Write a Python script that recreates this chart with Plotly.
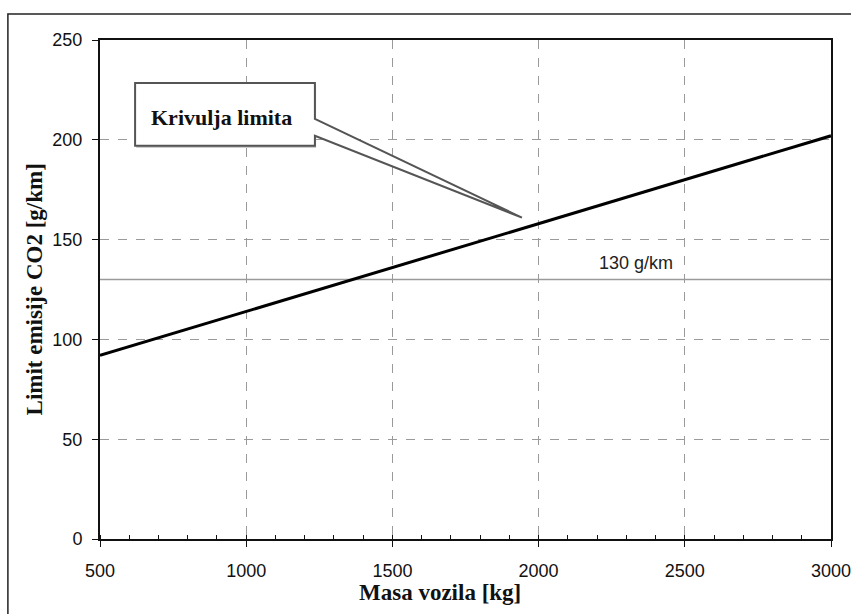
import plotly.graph_objects as go

# podaci
masa = [500, 3000]
limit_co2 = [92, 202]
cilj_x = [500, 3000]
cilj_y = [130, 130]
x_ticks = [500, 1000, 1500, 2000, 2500, 3000]
y_ticks = [0, 50, 100, 150, 200, 250]

tick_font = dict(family="Liberation Sans, Arial", size=18, color="#111")
title_font = dict(family="Liberation Serif, Times New Roman, serif", size=23, color="#111")

fig = go.Figure()

fig.add_trace(go.Scatter(
    x=cilj_x, y=cilj_y, mode="lines",
    line=dict(color="#9a9a9a", width=1.5),
    showlegend=False, hoverinfo="skip"
))
fig.add_trace(go.Scatter(
    x=masa, y=limit_co2, mode="lines",
    line=dict(color="black", width=3),
    showlegend=False
))

# callout "Krivulja limita" (okvir + klin prema krivulji)
bx0, bx1, by0, by1 = 620, 1235, 197, 228.5
wy1, wy2 = 210.5, 202
tip_x, tip_y = 1943, 161
path = (f"M {bx0},{by1} L {bx1},{by1} L {bx1},{wy1} L {tip_x},{tip_y} "
        f"L {bx1},{wy2} L {bx1},{by0} L {bx0},{by0} Z")
# sjena
fig.add_shape(type="rect", xref="x", yref="y", x0=bx0 + 4, x1=bx1 + 4, y0=by0 - 1, y1=by1 - 1,
              fillcolor="#bdbdbd", line=dict(width=0), layer="above")
fig.add_shape(type="path", path=path, xref="x", yref="y",
              fillcolor="white", line=dict(color="#555", width=2), layer="above")
fig.add_annotation(x=917, y=211, xref="x", yref="y",
                   text="<b>Krivulja limita</b>", showarrow=False,
                   font=dict(family="Liberation Serif, Times New Roman, serif", size=22, color="#111"))

fig.add_annotation(x=2333, y=138.5, xref="x", yref="y", text="130 g/km", showarrow=False,
                   font=dict(family="Liberation Sans, Arial", size=18, color="#222"))

# naslovi osi
fig.add_annotation(x=0.465, y=-0.108, xref="paper", yref="paper", text="<b>Masa vozila [kg]</b>",
                   showarrow=False, font=title_font, yanchor="middle")
fig.add_annotation(x=-0.089, y=0.5, xref="paper", yref="paper", text="<b>Limit emisije CO2 [g/km]</b>",
                   showarrow=False, font=title_font, textangle=-90, xanchor="center")

# vanjski okvir slike
fig.add_shape(type="rect", xref="paper", yref="paper", x0=-0.126, x1=1.3, y0=-0.3, y1=1.052,
              line=dict(color="#222", width=1.5), layer="below")

fig.update_xaxes(
    range=[500, 3000], tickvals=x_ticks, ticks="outside", ticklen=6, tickcolor="#111",
    showline=True, linecolor="#111", linewidth=2, mirror=True,
    showgrid=True, gridcolor="#9a9a9a", griddash="dash", gridwidth=1,
    minor=dict(dtick=100, ticks="inside", ticklen=4, tickcolor="#111", showgrid=False),
    tickfont=tick_font, ticklabelstandoff=8, ticklabeloverflow="allow",
    zeroline=False, automargin=False
)
fig.update_yaxes(
    range=[0, 250], tickvals=y_ticks, ticks="outside", ticklen=6, tickcolor="#111",
    showline=True, linecolor="#111", linewidth=2, mirror=True,
    showgrid=True, gridcolor="#9a9a9a", griddash="dash", gridwidth=1,
    tickfont=tick_font, ticklabelstandoff=6, zeroline=False, automargin=False
)

fig.update_layout(
    width=851, height=614,
    margin=dict(l=100, r=20, t=40, b=75),
    paper_bgcolor="white", plot_bgcolor="white",
    showlegend=False
)

# bez margina stranice, da slika stane tocno u prozor
fig.write_html("out.html", config={"displayModeBar": False},
               post_script="document.body.style.margin='0';document.body.style.overflow='hidden';")
